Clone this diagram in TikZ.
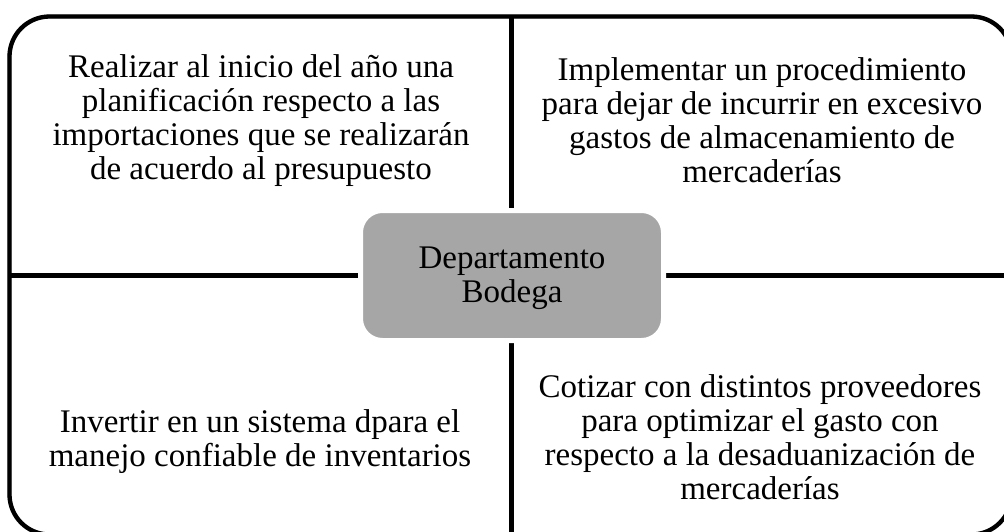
\documentclass[tikz,border=0pt]{standalone}
\usepackage{fontspec}
\setmainfont{Liberation Serif}
\definecolor{hubgray}{HTML}{A6A6A6}
\begin{document}
\begin{tikzpicture}[x=1pt,y=-1pt,
  frame/.style={line width=4.3pt, draw=black},
  shade/.style={line width=4.3pt, draw=black!25},
  hub/.style={fill=hubgray, draw=white, line width=5pt, rounded corners=22pt,
    minimum width=303pt, minimum height=130pt, inner sep=0pt},
  txt/.style={anchor=base, inner sep=0pt, font=\fontsize{33}{34}\selectfont}]
\useasboundingbox (0,0) rectangle (1004,531);
\clip (0,0) rectangle (1004,531);
\coordinate (tl) at (9.5,16.5);
\coordinate (br) at (1011.5,534.5);
\coordinate (top) at (511.5,16.5);
\coordinate (bot) at (511.5,534.5);
\coordinate (lft) at (9.5,275.5);
\coordinate (rgt) at (1011.5,275.5);
% shadows
\begin{scope}[shift={(1.2,1.2)}]
  \draw[shade, rounded corners=40pt] (tl) rectangle (br);
  \draw[shade] (top) -- (bot);
  \draw[shade] (lft) -- (rgt);
\end{scope}
% frame and dividers
\draw[frame, rounded corners=40pt] (tl) rectangle (br);
\draw[frame] (top) -- (bot);
\draw[frame] (lft) -- (rgt);
% hub
\node[hub] (c) at (512,275.5) {};
\node[txt] (ct) at (512,268) {\parbox[t]{290pt}{\centering Departamento\\Bodega}};
% quadrant texts
\node[txt] (q1) at (261,77) {\parbox[t]{490pt}{\centering Realizar al inicio del año una\\
  planificación respecto  a las\\ importaciones que se realizarán\\ de acuerdo al presupuesto}};
\node[txt] (q2) at (762,80) {\parbox[t]{490pt}{\centering Implementar un procedimiento\\
  para dejar de incurrir en excesivo\\ gastos de almacenamiento de\\ mercaderías}};
\node[txt] (q3) at (260,432) {\parbox[t]{490pt}{\centering Invertir en un sistema dpara el\\
  manejo confiable de inventarios}};
\node[txt] (q4) at (760,397) {\parbox[t]{490pt}{\centering Cotizar con distintos proveedores\\
  para optimizar el gasto con\\ respecto a la desaduanización de\\ mercaderías}};
\end{tikzpicture}
\end{document}
